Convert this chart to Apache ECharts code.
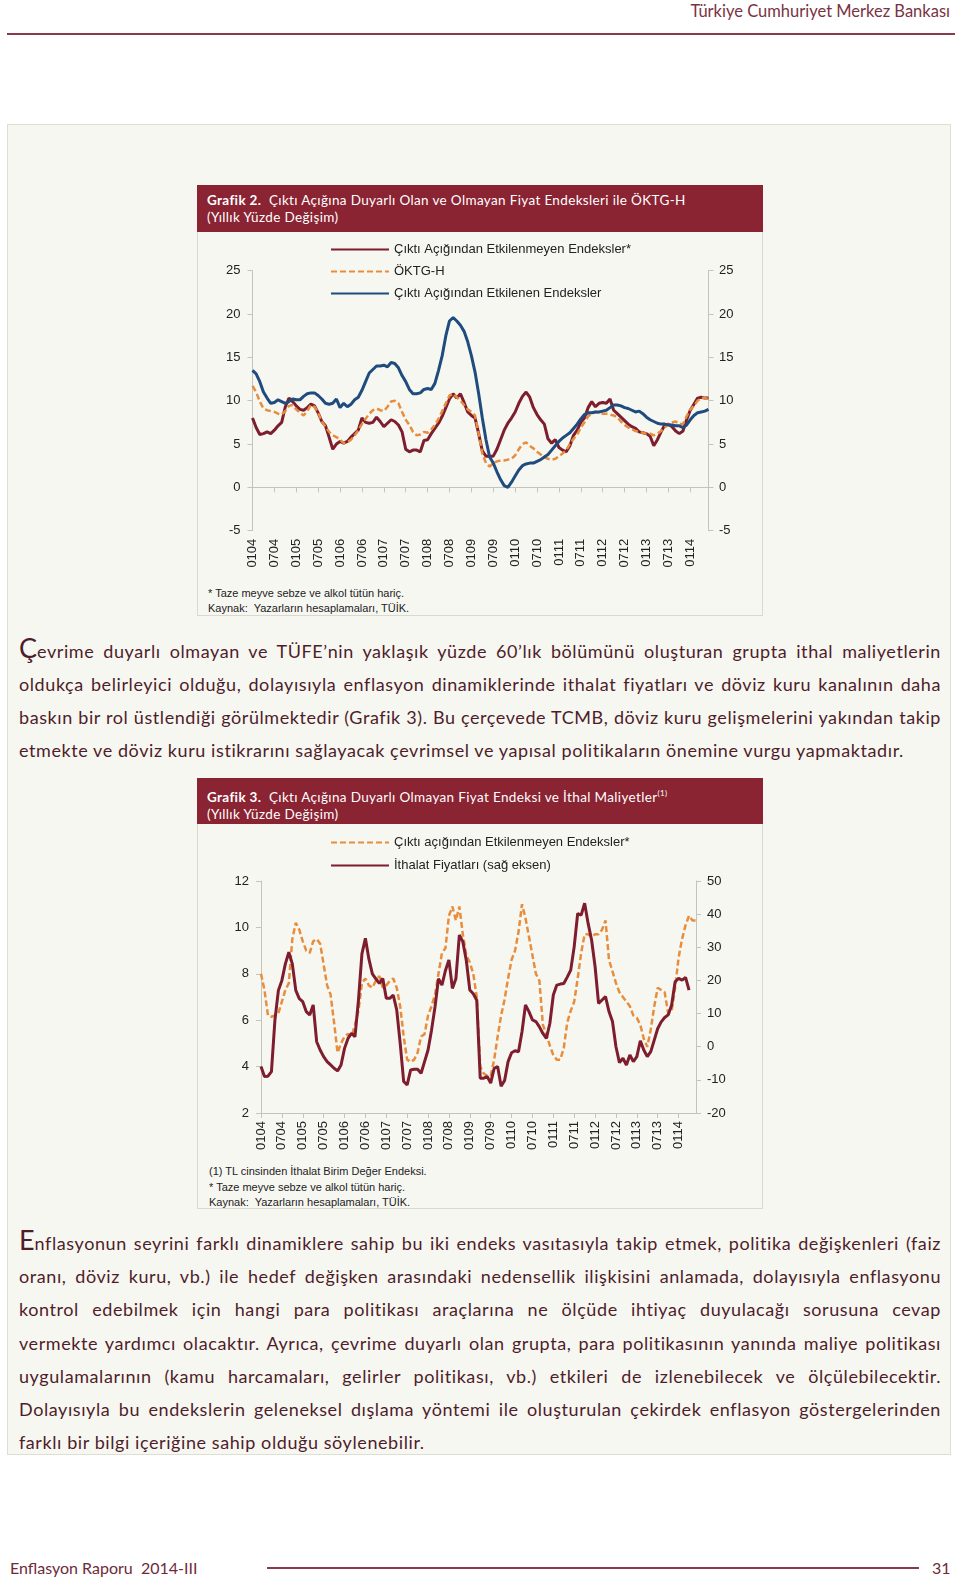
<!DOCTYPE html>
<html>
<head>
<meta charset="utf-8">
<script src="https://cdn.jsdelivr.net/npm/echarts/dist/echarts.min.js"></script>
<style>
  html, body { margin: 0; padding: 0; background: #ffffff; }
  #page { position: relative; width: 960px; height: 1579px; overflow: hidden; font-family: Lato, "Noto Sans", sans-serif; }
  .abs { position: absolute; }
  .hdr { right: 10px; top: 1px; font-size: 16.5px; color: #7a3342; white-space: nowrap; }
  .rule { background: #8a3a4a; }
  .outer { left: 7px; top: 124px; width: 944px; height: 1331px; background: #f7f7f2; border: 1.5px solid #dedfd3; box-sizing: border-box; }
  .cbox { background: #f7f7f2; border: 1px solid #d9dacd; box-sizing: border-box; }
  .bar { background: #8a2332; color: #ffffff; font-size: 13.5px; letter-spacing: 0.35px; line-height: 17px; box-sizing: border-box; padding: 7px 0 0 10px; white-space: nowrap; }
  .bar b { font-weight: 700; }
  .note { font-family: "Liberation Sans", Arial, sans-serif; font-size: 11px; color: #222; white-space: nowrap; line-height: 15px; }
  .ln { left: 19px; width: 922px; font-size: 18px; letter-spacing: 0.58px; line-height: 33px; height: 33px; color: #4f1d2a; white-space: nowrap; text-align: justify; text-align-last: justify; }
  .ln.last { text-align: left; text-align-last: left; }
  .cap { font-size: 27px; line-height: 20px; letter-spacing: 0; }
  .foot { font-size: 16px; color: #6e2a39; white-space: nowrap; }
</style>
</head>
<body>
<div id="page">
  <div class="abs hdr">Türkiye Cumhuriyet Merkez Bankası</div>
  <div class="abs rule" style="left:7px; top:33px; width:948px; height:2px;"></div>

  <div class="abs outer"></div>

  <!-- Grafik 2 -->
  <div class="abs cbox" style="left:197px; top:185px; width:566px; height:431px;"></div>
  <div class="abs bar" style="left:197px; top:185px; width:566px; height:47px;"><b>Grafik 2.</b>&nbsp; Çıktı Açığına Duyarlı Olan ve Olmayan Fiyat Endeksleri ile ÖKTG-H<br>(Yıllık Yüzde Değişim)</div>
  <div id="c1" class="abs" style="left:197px; top:232px; width:566px; height:345px;"></div>
  <div class="abs note" style="left:208px; top:586px;">* Taze meyve sebze ve alkol tütün hariç.</div>
  <div class="abs note" style="left:208px; top:601px;">Kaynak:&nbsp; Yazarların hesaplamaları, TÜİK.</div>

  <!-- Paragraph 1 -->
  <div class="abs ln" style="top:635px;"><span class="cap">Ç</span>evrime duyarlı olmayan ve TÜFE’nin yaklaşık yüzde 60’lık bölümünü oluşturan grupta ithal maliyetlerin</div>
  <div class="abs ln" style="top:668px;">oldukça belirleyici olduğu, dolayısıyla enflasyon dinamiklerinde ithalat fiyatları ve döviz kuru kanalının daha</div>
  <div class="abs ln" style="top:701px;">baskın bir rol üstlendiği görülmektedir (Grafik 3). Bu çerçevede TCMB, döviz kuru gelişmelerini yakından takip</div>
  <div class="abs ln last" style="top:734px;">etmekte ve döviz kuru istikrarını sağlayacak çevrimsel ve yapısal politikaların önemine vurgu yapmaktadır.</div>

  <!-- Grafik 3 -->
  <div class="abs cbox" style="left:197px; top:778px; width:566px; height:431px;"></div>
  <div class="abs bar" style="left:197px; top:778px; width:566px; height:46px;"><b>Grafik 3.</b>&nbsp; Çıktı Açığına Duyarlı Olmayan Fiyat Endeksi ve İthal Maliyetler<sup style="font-size:8px;">(1)</sup><br>(Yıllık Yüzde Değişim)</div>
  <div id="c2" class="abs" style="left:197px; top:824px; width:566px; height:336px;"></div>
  <div class="abs note" style="left:209px; top:1164px;">(1) TL cinsinden İthalat Birim Değer Endeksi.</div>
  <div class="abs note" style="left:209px; top:1180px;">* Taze meyve sebze ve alkol tütün hariç.</div>
  <div class="abs note" style="left:209px; top:1195px;">Kaynak:&nbsp; Yazarların hesaplamaları, TÜİK.</div>

  <!-- Paragraph 2 -->
  <div class="abs ln" style="top:1227px;"><span class="cap">E</span>nflasyonun seyrini farklı dinamiklere sahip bu iki endeks vasıtasıyla takip etmek, politika değişkenleri (faiz</div>
  <div class="abs ln" style="top:1260px;">oranı, döviz kuru, vb.) ile hedef değişken arasındaki nedensellik ilişkisini anlamada, dolayısıyla enflasyonu</div>
  <div class="abs ln" style="top:1293px;">kontrol edebilmek için hangi para politikası araçlarına ne ölçüde ihtiyaç duyulacağı sorusuna cevap</div>
  <div class="abs ln" style="top:1327px;">vermekte yardımcı olacaktır. Ayrıca, çevrime duyarlı olan grupta, para politikasının yanında maliye politikası</div>
  <div class="abs ln" style="top:1360px;">uygulamalarının (kamu harcamaları, gelirler politikası, vb.) etkileri de izlenebilecek ve ölçülebilecektir.</div>
  <div class="abs ln" style="top:1393px;">Dolayısıyla bu endekslerin geleneksel dışlama yöntemi ile oluşturulan çekirdek enflasyon göstergelerinden</div>
  <div class="abs ln last" style="top:1426px;">farklı bir bilgi içeriğine sahip olduğu söylenebilir.</div>

  <!-- Footer -->
  <div class="abs foot" style="left:10px; top:1558px;">Enflasyon Raporu&nbsp; 2014-III</div>
  <div class="abs rule" style="left:267px; top:1567px; width:652px; height:1.5px;"></div>
  <div class="abs foot" style="left:932px; top:1558px;">31</div>
</div>

<script>
// ---- categories: monthly, Jan 2004 .. Jun 2014, labelled MMYY ----
const categories = [];
for (let y = 4; y <= 14; y++) {
  for (let m = 1; m <= 12; m++) {
    if (categories.length < 126) categories.push(String(m).padStart(2, '0') + String(y).padStart(2, '0'));
  }
}

// ---- Grafik 2 series (yearly % change) ----
const c1Names = ['Çıktı Açığından Etkilenmeyen Endeksler*', 'ÖKTG-H', 'Çıktı Açığından Etkilenen Endeksler'];
const c1Unaffected = [
  8.0, 6.9, 6.1, 6.2, 6.4, 6.2, 6.6, 7.1, 7.5, 9.3, 10.3, 9.9,
  9.4, 9.0, 8.9, 9.2, 9.6, 9.4, 8.6, 7.6, 7.1, 5.8, 4.4, 5.0,
  5.3, 5.1, 5.3, 5.8, 6.2, 6.6, 8.0, 7.5, 7.4, 7.5, 8.1, 7.6,
  7.0, 7.4, 7.8, 7.6, 7.2, 6.4, 4.4, 4.1, 4.3, 4.3, 4.1, 5.4,
  5.5, 6.2, 6.8, 7.4, 8.2, 9.2, 10.2, 10.8, 10.3, 10.8, 9.8, 8.7,
  8.3, 8.0, 6.2, 4.2, 3.6, 3.6, 3.6, 4.4, 5.5, 6.6, 7.4, 8.0,
  8.7, 9.7, 10.5, 11.0, 10.4, 9.2, 8.4, 7.8, 7.3, 5.6, 5.1, 5.5,
  4.6, 4.3, 4.1, 4.8, 6.0, 6.6, 7.5, 8.0, 9.2, 9.9, 9.3, 9.7,
  9.8, 9.7, 10.2, 8.9, 8.5, 8.1, 7.7, 7.3, 7.0, 6.8, 6.4, 6.3,
  6.2, 5.9, 4.8, 5.5, 6.4, 7.2, 7.3, 7.0, 6.5, 6.2, 6.5, 7.8,
  8.9, 9.6, 10.3, 10.4, 10.3, 10.3
];
const c1Oktgh = [
  11.7, 11.0, 9.9, 9.1, 8.9, 8.8, 8.7, 8.5, 8.4, 8.8, 9.4, 9.5,
  9.0, 8.6, 8.3, 8.8, 9.5, 9.3, 8.6, 7.6, 7.0, 6.4, 6.0, 5.8,
  5.5, 5.1, 5.2, 5.5, 6.0, 6.6, 7.3, 7.9, 8.5, 8.9, 9.1, 8.9,
  8.8, 9.3, 9.9, 10.0, 9.7, 8.7, 7.8, 7.2, 6.4, 6.0, 6.1, 6.4,
  6.3, 6.7, 7.2, 7.9, 8.8, 9.7, 10.6, 10.8, 10.4, 10.0, 9.5, 9.0,
  8.7, 8.3, 6.2, 3.9, 2.8, 2.4, 2.8, 3.0, 3.1, 3.1, 3.2, 3.3,
  3.7, 4.4, 5.0, 5.2, 4.8, 4.5, 4.1, 3.8, 3.5, 3.3, 3.2, 3.3,
  3.6, 3.9, 4.3, 5.0, 5.6, 6.1, 6.9, 7.5, 8.2, 8.5, 8.7, 8.6,
  8.5, 8.5, 8.4, 8.3, 8.1, 7.6, 7.2, 6.9, 6.7, 6.5, 6.4, 6.3,
  6.2, 6.2, 6.0, 6.2, 6.5, 6.9, 7.3, 7.5, 7.6, 7.3, 7.3, 8.2,
  9.0, 9.4, 10.0, 10.3, 10.3, 10.2
];
const c1Affected = [
  13.5, 13.1, 12.2, 11.0, 10.3, 9.7, 9.8, 10.1, 9.9, 9.7, 9.9, 10.2,
  10.1, 10.1, 10.5, 10.8, 10.9, 10.9, 10.6, 10.2, 9.7, 9.6, 9.7, 10.2,
  9.2, 9.7, 9.3, 9.6, 10.1, 10.4, 11.2, 12.2, 13.2, 13.6, 14.0, 14.0,
  14.1, 13.9, 14.4, 14.3, 13.8, 12.9, 12.2, 11.3, 10.8, 10.8, 10.9, 11.3,
  11.4, 11.3, 12.0, 13.5, 15.2, 17.5, 19.2, 19.6, 19.2, 18.7, 18.0, 16.8,
  15.2, 13.3, 10.8, 8.0, 5.5, 3.5, 2.8, 1.8, 0.9, 0.2, 0.0, 0.6,
  1.3, 2.0, 2.5, 2.7, 2.8, 2.8, 3.0, 3.2, 3.5, 3.8, 4.3, 4.8,
  5.3, 5.7, 6.0, 6.3, 6.8, 7.3, 7.9, 8.4, 8.6, 8.6, 8.7, 8.7,
  8.8, 8.9, 9.2, 9.5, 9.5, 9.4, 9.2, 9.1, 8.9, 8.7, 8.8, 8.5,
  8.1, 7.8, 7.6, 7.4, 7.3, 7.3, 7.2, 7.2, 7.1, 7.1, 6.9, 7.2,
  7.8, 8.3, 8.6, 8.7, 8.8, 9.0
];

// ---- Grafik 3 series ----
const c2Names = ['Çıktı açığından Etkilenmeyen Endeksler*', 'İthalat Fiyatları (sağ eksen)'];
const c2Unaffected = [
  8.0, 7.3, 6.2, 6.15, 6.2, 6.3, 6.8, 7.3, 7.6, 9.5, 10.2, 9.9,
  9.4, 9.0, 8.9, 9.4, 9.5, 9.3, 8.4, 7.5, 7.1, 5.9, 4.6, 5.0,
  5.3, 5.4, 5.3, 5.8, 6.4, 7.6, 7.8, 7.5, 7.4, 7.7, 7.9, 7.4,
  7.5, 7.7, 7.8, 7.4, 6.6, 5.3, 4.3, 4.2, 4.3, 4.6, 5.3, 5.4,
  6.2, 6.6, 7.1, 8.0, 8.9, 9.1, 10.5, 10.9, 10.3, 10.9, 9.7, 8.8,
  8.5, 8.0, 7.0, 4.0, 3.7, 3.6, 3.6, 4.3, 5.3, 6.2, 6.9, 7.8,
  8.6, 9.0, 9.8, 11.0, 10.4, 9.6, 8.8, 8.0, 7.7, 5.8, 5.4, 4.9,
  4.5, 4.3, 4.3, 4.8, 5.9, 6.4, 6.8, 7.8, 8.9, 9.7, 9.7, 9.6,
  9.7, 9.7, 9.9, 10.3, 8.6, 8.1, 7.6, 7.2, 7.0, 6.8, 6.6, 6.2,
  6.1, 5.8, 5.2, 4.85, 5.6, 6.6, 7.4, 7.3, 7.2, 6.3, 6.4, 7.4,
  8.7, 9.5, 10.1, 10.5, 10.3, 10.3
];
const c2Imports = [
  -6.0, -9.0, -8.9, -7.5, 8.0, 17.0, 20.0, 25.0, 28.5, 25.0, 17.0, 14.5,
  13.6, 10.6, 9.6, 12.6, 1.5, -1.0, -3.0, -4.5, -5.5, -6.5, -7.3, -5.5,
  -0.5, 2.5, 4.0, 3.0, 14.0, 28.0, 32.7, 26.5, 22.0, 20.5, 19.1, 20.6,
  14.6, 14.6, 15.6, 11.1, 1.0, -10.5, -11.5, -7.0, -6.8, -6.8, -8.0, -4.5,
  -1.0, 5.0, 12.0, 20.5, 18.6, 23.0, 26.2, 17.6, 20.5, 33.7, 31.7, 26.0,
  17.1, 16.0, 14.0, -9.5, -9.5, -9.0, -11.0, -6.5, -6.0, -11.9, -10.2, -4.5,
  -1.8, -1.2, -1.5, 4.5, 12.6, 10.6, 8.1, 7.6, 6.0, 4.0, 2.5, 7.0,
  15.6, 18.6, 18.9, 19.1, 21.0, 23.1, 30.2, 40.2, 39.7, 43.3, 37.2, 32.2,
  24.2, 13.1, 14.1, 15.1, 10.6, 7.6, 0.0, -4.8, -3.5, -5.5, -2.5, -4.5,
  -3.0, 1.8, -1.0, -3.0, -1.5, 2.0, 5.5, 7.5, 8.8, 9.6, 12.6, 19.6,
  20.6, 20.1, 20.9, 17.1, null, null
];

const MAROON = '#7d1d2d', ORANGE = '#e88d3c', BLUE = '#1f4b7d';
const AX = '#c4c4bc';
const labelFont = { fontFamily: '"Liberation Sans", Arial, sans-serif', fontSize: 13, color: '#222' };

function yAxisCfg(pos, min, max, interval, margin) {
  return {
    type: 'value', position: pos, min: min, max: max, interval: interval,
    axisLine: { show: true, lineStyle: { color: AX, width: 1 } },
    axisTick: { show: true, length: 5, lineStyle: { color: AX } },
    splitLine: { show: false },
    axisLabel: Object.assign({ margin: margin }, labelFont)
  };
}
const legendBase = {
  orient: 'vertical', itemWidth: 58, itemHeight: 14,
  itemStyle: { opacity: 0, borderWidth: 0 },
  textStyle: Object.assign({}, labelFont, { fontSize: 13 })
};

// ---------- Grafik 2 ----------
const ch1 = echarts.init(document.getElementById('c1'), null, { renderer: 'canvas' });
ch1.setOption({
  backgroundColor: 'transparent',
  animation: false,
  grid: { left: 55.5, right: 54.5, top: 38.7, bottom: 46.3, outerBoundsMode: 'none', containLabel: false },
  legend: Object.assign({}, legendBase, { left: 128, top: 6, itemGap: 9, data: c1Names }),
  xAxis: [
    { // labels along the bottom of the plot
      type: 'category', data: categories, boundaryGap: false, position: 'bottom',
      axisLine: { show: false, onZero: false },
      axisTick: { show: false },
      axisLabel: Object.assign({ interval: 5, rotate: 90, margin: 8 }, labelFont)
    },
    { // the axis line itself, drawn at zero with its ticks
      type: 'category', data: categories, boundaryGap: false, position: 'top',
      axisLine: { show: true, onZero: true, onZeroAxisIndex: 0, lineStyle: { color: AX } },
      axisTick: { show: true, inside: true, interval: 5, length: 5, lineStyle: { color: AX } },
      axisLabel: { show: false }
    }
  ],
  yAxis: [
    yAxisCfg('left', -5, 25, 5, 12),
    yAxisCfg('right', -5, 25, 5, 10.5)
  ],
  series: [
    { name: c1Names[0], type: 'line', xAxisIndex: 0, data: c1Unaffected, symbol: 'none', lineStyle: { color: MAROON, width: 3 }, itemStyle: { color: MAROON } },
    { name: c1Names[1], type: 'line', xAxisIndex: 0, data: c1Oktgh, symbol: 'none', lineStyle: { color: ORANGE, width: 2.5, type: [6, 3] }, itemStyle: { color: ORANGE } },
    { name: c1Names[2], type: 'line', xAxisIndex: 0, data: c1Affected, symbol: 'none', lineStyle: { color: BLUE, width: 3 }, itemStyle: { color: BLUE } }
  ]
});

// ---------- Grafik 3 ----------
const ch2 = echarts.init(document.getElementById('c2'), null, { renderer: 'canvas' });
ch2.setOption({
  backgroundColor: 'transparent',
  animation: false,
  grid: { left: 64, right: 67, top: 57, bottom: 47, outerBoundsMode: 'none', containLabel: false },
  legend: Object.assign({}, legendBase, { left: 128, top: 7, itemGap: 10, data: c2Names }),
  xAxis: {
    type: 'category', data: categories, boundaryGap: false,
    axisLine: { show: true, onZero: false, lineStyle: { color: AX } },
    axisTick: { show: true, interval: 5, length: 5, lineStyle: { color: AX } },
    axisLabel: Object.assign({ interval: 5, rotate: 90, margin: 8 }, labelFont)
  },
  yAxis: [
    yAxisCfg('left', 2, 12, 2, 12),
    yAxisCfg('right', -20, 50, 10, 11)
  ],
  series: [
    { name: c2Names[0], type: 'line', yAxisIndex: 0, data: c2Unaffected, symbol: 'none', lineStyle: { color: ORANGE, width: 2.5, type: [6, 3] }, itemStyle: { color: ORANGE } },
    { name: c2Names[1], type: 'line', yAxisIndex: 1, data: c2Imports, symbol: 'none', connectNulls: false, lineStyle: { color: MAROON, width: 3 }, itemStyle: { color: MAROON } }
  ]
});
</script>
</body>
</html>
